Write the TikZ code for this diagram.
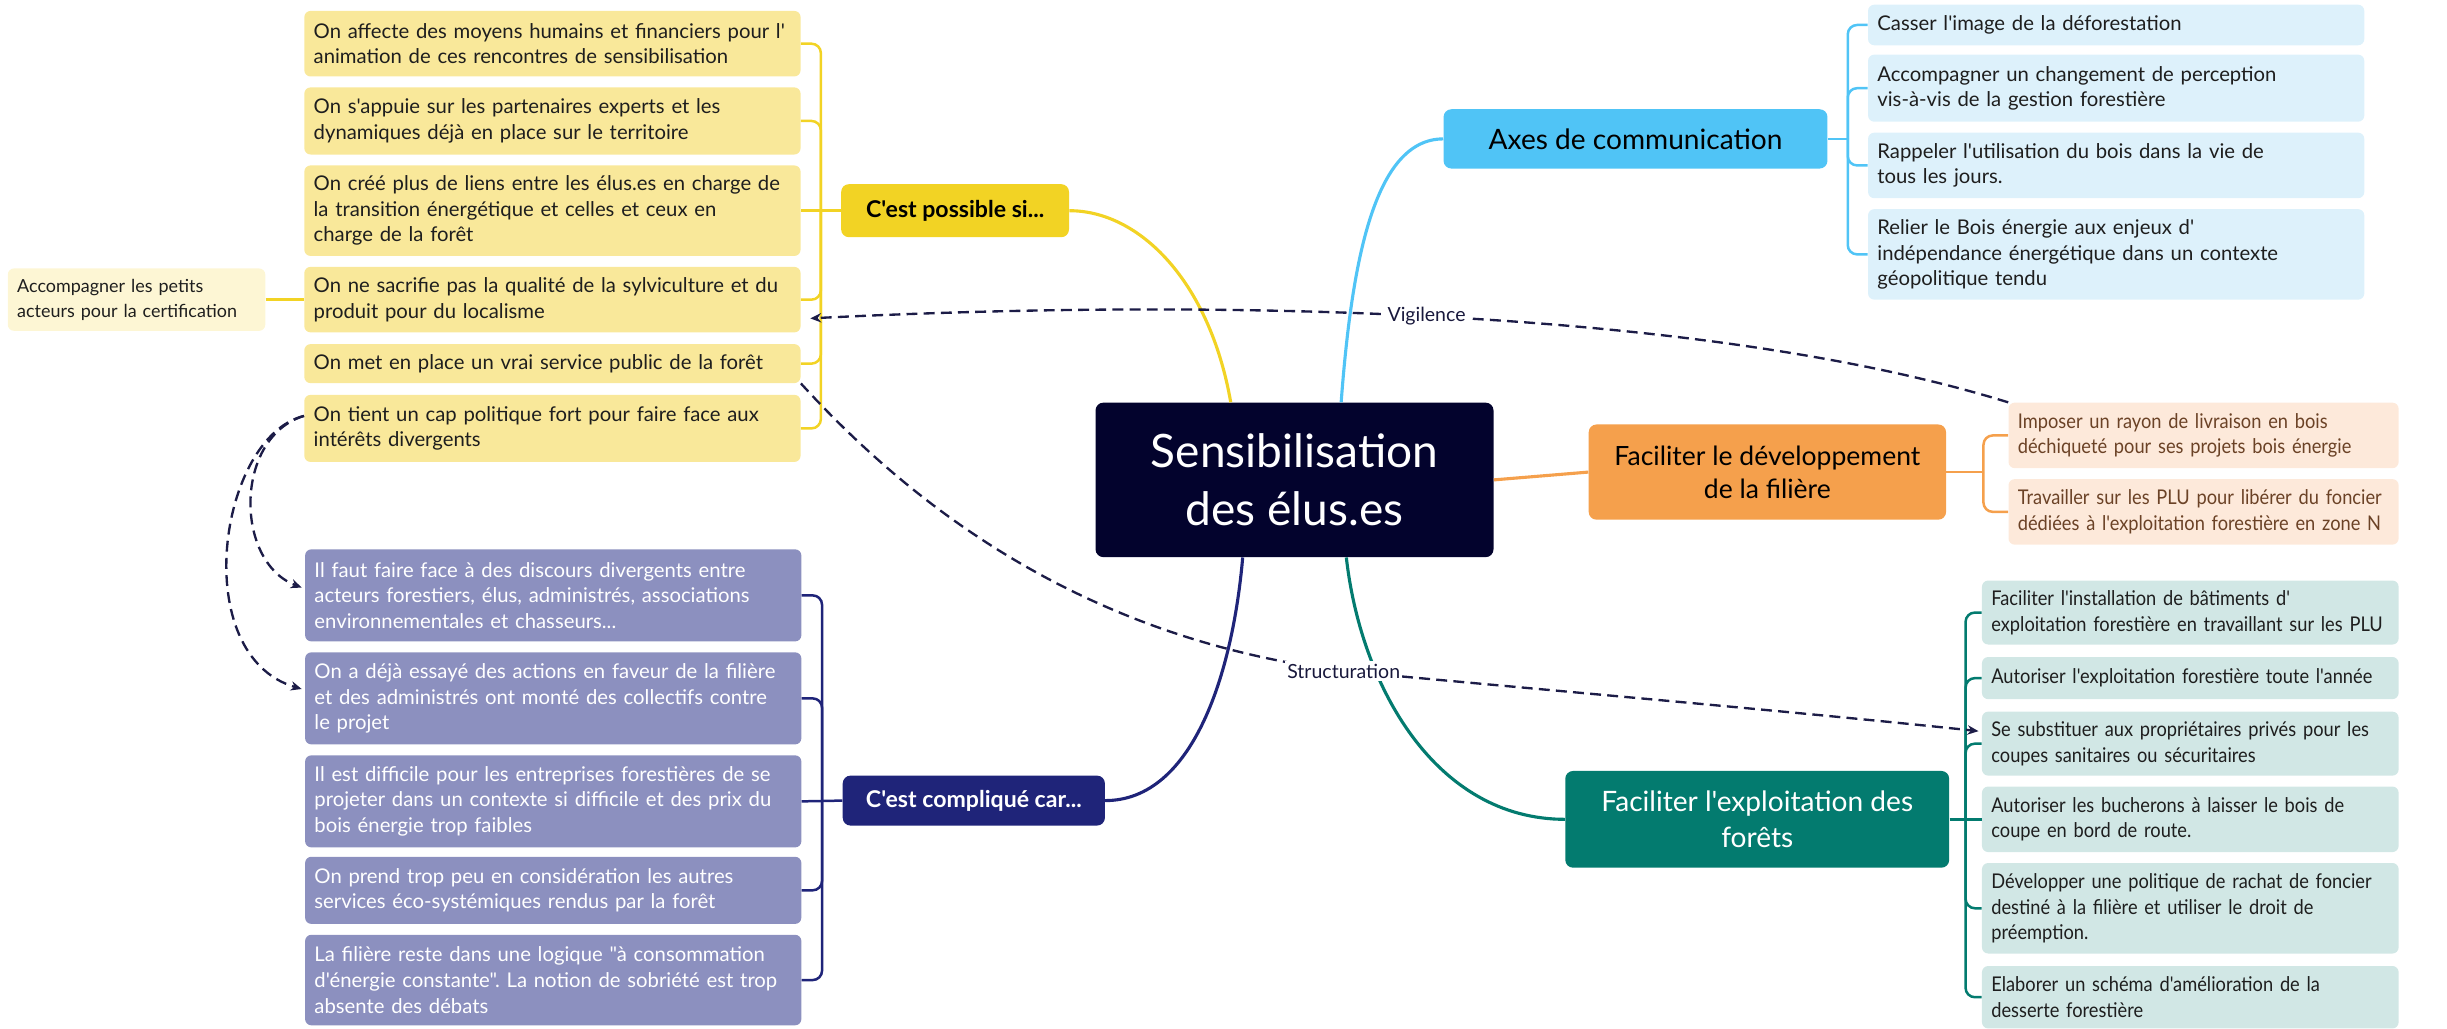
\documentclass[tikz,border=0pt]{standalone}
\usepackage{fontspec}
\setmainfont{Lato}[Ligatures=TeXOff]
\newfontfamily\condfont{Lato}[FakeStretch=0.9,Ligatures=TeXOff]
\usetikzlibrary{arrows.meta,calc}
\frenchspacing
\definecolor{centerfill}{HTML}{03032D}
\definecolor{yelmain}{HTML}{F2D324}
\definecolor{yelitem}{HTML}{F9E89A}
\definecolor{yelsmall}{HTML}{FDF6D4}
\definecolor{bluemain}{HTML}{50C4F6}
\definecolor{blueitem}{HTML}{DDF1FB}
\definecolor{orgmain}{HTML}{F5A04C}
\definecolor{orgitem}{HTML}{FDE9DA}
\definecolor{orgtext}{HTML}{6B4226}
\definecolor{tealmain}{HTML}{037B6F}
\definecolor{tealitem}{HTML}{D1E7E5}
\definecolor{navymain}{HTML}{1F2479}
\definecolor{purpitem}{HTML}{8C90BF}
\definecolor{dashc}{HTML}{1C1C47}
\definecolor{itemtext}{HTML}{1E1E1E}
\begin{document}
\frenchspacing
\begin{tikzpicture}[x=1pt,y=-1pt,
  mainbox/.style={rounded corners=5pt, inner sep=0pt, align=center},
  item/.style={rounded corners=4pt, align=left, inner xsep=6pt, inner ysep=0pt, font=\fontsize{13}{16.4}\selectfont},
  yitem/.style={item, fill=yelitem, text=itemtext, minimum width=318pt, text width=306pt},
  pitem/.style={item, fill=purpitem, text=white, minimum width=318pt, text width=306pt},
  bitem/.style={item, fill=blueitem, text=itemtext, minimum width=318pt, text width=306pt},
  oitem/.style={item, fill=orgitem, text=orgtext, minimum width=250pt, text width=238pt, font=\condfont\fontsize{13}{16.4}\selectfont},
  titem/.style={item, fill=tealitem, text=itemtext, minimum width=267pt, text width=255pt, font=\condfont\fontsize{13}{16.4}\selectfont},
  brk/.style={line width=1.6pt, rounded corners=6pt},
  ybr/.style={brk, draw=yelmain},
  pbr/.style={brk, draw=navymain},
  bbr/.style={brk, draw=bluemain},
  obr/.style={brk, draw=orgmain},
  tbr/.style={brk, draw=tealmain},
  link/.style={line width=2pt},
  dashln/.style={draw=dashc, line width=1.5pt, dash pattern=on 7pt off 4pt, -{Stealth[length=7pt,width=6pt]}},
  lab/.style={fill=white, inner sep=1.5pt, text=dashc!85!black, font=\fontsize{12.5}{14}\selectfont}
]
\useasboundingbox (0,0) rectangle (1568,659);

% central node
\node[mainbox, fill=centerfill, text=white, minimum width=255pt, minimum height=99pt,
  font=\fontsize{29.5}{37}\selectfont] (center) at (829.5,307.5) {Sensibilisation\\des élus.es};

% main branches
\node[mainbox, fill=yelmain, text=black, minimum width=146pt, minimum height=34pt,
  font=\bfseries\fontsize{14.8}{16}\selectfont] (possible) at (612,135) {C'est possible si...};
\node[mainbox, fill=navymain, text=white, minimum width=168pt, minimum height=32pt,
  font=\bfseries\fontsize{14.8}{16}\selectfont] (complique) at (624,513) {C'est compliqué car...};
\node[mainbox, fill=bluemain, text=black, minimum width=246pt, minimum height=38pt,
  font=\fontsize{18}{20}\selectfont] (axes) at (1048,89) {Axes de communication};
\node[mainbox, fill=orgmain, text=black, minimum width=229pt, minimum height=61pt,
  font=\fontsize{17}{21}\selectfont] (dev) at (1132.5,302.5) {Faciliter le développement\\de la filière};
\node[mainbox, fill=tealmain, text=white, minimum width=246pt, minimum height=62pt,
  font=\fontsize{18}{23}\selectfont] (exploit) at (1126,525) {Faciliter l'exploitation des\\forêts};

% yellow items
\node[yitem, minimum height=42pt] (y1) at (354,28) {On affecte des moyens humains et financiers pour l'\\animation de ces rencontres de sensibilisation};
\node[yitem, minimum height=43pt] (y2) at (354,77.5) {On s'appuie sur les partenaires experts et les\\dynamiques déjà en place sur le territoire};
\node[yitem, minimum height=58pt] (y3) at (354,135) {On créé plus de liens entre les élus.es en charge de\\la transition énergétique et celles et ceux en\\charge de la forêt};
\node[yitem, minimum height=42pt] (y4) at (354,192) {On ne sacrifie pas la qualité de la sylviculture et du\\produit pour du localisme};
\node[yitem, minimum height=25pt] (y5) at (354,233) {On met en place un vrai service public de la forêt};
\node[yitem, minimum height=43pt] (y6) at (354,274.5) {On tient un cap politique fort pour faire face aux\\intérêts divergents};
\node[item, fill=yelsmall, text=itemtext, minimum width=165pt, text width=153pt, minimum height=40pt,
  font=\fontsize{11.5}{16}\selectfont] (small) at (87.5,192) {Accompagner les petits\\acteurs pour la certification};

% purple items
\node[pitem, minimum height=59pt] (p1) at (354.5,381.5) {Il faut faire face à des discours divergents entre\\acteurs forestiers, élus, administrés, associations\\environnementales et chasseurs...};
\node[pitem, minimum height=59pt] (p2) at (354.5,447.5) {On a déjà essayé des actions en faveur de la filière\\et des administrés ont monté des collectifs contre\\le projet};
\node[pitem, minimum height=59pt] (p3) at (354.5,513.5) {Il est difficile pour les entreprises forestières de se\\projeter dans un contexte si difficile et des prix du\\bois énergie trop faibles};
\node[pitem, minimum height=43pt] (p4) at (354.5,570.5) {On prend trop peu en considération les autres\\services éco-systémiques rendus par la forêt};
\node[pitem, minimum height=58pt] (p5) at (354.5,628) {La filière reste dans une logique "à consommation\\d'énergie constante". La notion de sobriété est trop\\absente des débats};

% blue items
\node[bitem, minimum height=26pt] (b1) at (1356,16) {Casser l'image de la déforestation};
\node[bitem, minimum height=43pt] (b2) at (1356,56.5) {Accompagner un changement de perception\\vis-à-vis de la gestion forestière};
\node[bitem, minimum height=42pt] (b3) at (1356,106) {Rappeler l'utilisation du bois dans la vie de\\tous les jours.};
\node[bitem, minimum height=58pt] (b4) at (1356,163) {Relier le Bois énergie aux enjeux d'\\indépendance énergétique dans un contexte\\géopolitique tendu};

% orange items
\node[oitem, minimum height=42pt] (o1) at (1412,279) {Imposer un rayon de livraison en bois\\déchiqueté pour ses projets bois énergie};
\node[oitem, minimum height=42pt] (o2) at (1412,328) {Travailler sur les PLU pour libérer du foncier\\dédiées à l'exploitation forestière en zone N};

% teal items
\node[titem, minimum height=41pt] (t1) at (1403.5,392.5) {Faciliter l'installation de bâtiments d'\\exploitation forestière en travaillant sur les PLU};
\node[titem, minimum height=27pt] (t2) at (1403.5,434.5) {Autoriser l'exploitation forestière toute l'année};
\node[titem, minimum height=41pt] (t3) at (1403.5,476.5) {Se substituer aux propriétaires privés pour les\\coupes sanitaires ou sécuritaires};
\node[titem, minimum height=42pt] (t4) at (1403.5,525) {Autoriser les bucherons à laisser le bois de\\coupe en bord de route.};
\node[titem, minimum height=58pt] (t5) at (1403.5,582) {Développer une politique de rachat de foncier\\destiné à la filière et utiliser le droit de\\préemption.};
\node[titem, minimum height=40pt] (t6) at (1403.5,639) {Elaborer un schéma d'amélioration de la\\desserte forestière};

% brackets
\coordinate (ym) at ($(possible.west)!0.5!(y3.east)$);
\foreach \n in {y1,y2,y4,y5,y6} \draw[ybr] (\n.east) -| (ym);
\draw[ybr] (possible.west) -- (y3.east);
\draw[ybr] (small.east) -- (y4.west);

\coordinate (pm) at ($(complique.west)!0.5!(p3.east)$);
\foreach \n in {p1,p2,p4,p5} \draw[pbr] (\n.east) -| (pm);
\draw[pbr] (complique.west) -- (p3.east);

\coordinate (am) at ($(axes.east)!0.5!(axes.east -| b1.west)$);
\draw[bbr] (axes.east) -- (am);
\foreach \n in {b1,b2,b3,b4} \draw[bbr] (\n.west) -| (am);

\coordinate (om) at ($(dev.east)!0.6!(dev.east -| o1.west)$);
\draw[obr] (dev.east) -- (om);
\foreach \n in {o1,o2} \draw[obr] (\n.west) -| (om);

\coordinate (tm) at ($(exploit.east)!0.5!(t4.west)$);
\draw[tbr] (exploit.east) -- (t4.west);
\foreach \n in {t1,t2,t3,t5,t6} \draw[tbr] (\n.west) -| (tm);

% links from center
\draw[link, yelmain] (possible.east) .. controls (730,135) and (775,180) .. ($(center.north west)!0.34!(center.north east)$);
\draw[link, bluemain] ($(center.north west)!0.617!(center.north east)$) .. controls (866,170) and (880,89) .. (axes.west);
\draw[link, orgmain] (center.east) -- (dev.west);
\draw[link, navymain] ($(center.south west)!0.37!(center.south east)$) .. controls (790,430) and (765,513) .. (complique.east);
\draw[link, tealmain] ($(center.south west)!0.63!(center.south east)$) .. controls (872,440) and (920,525) .. (exploit.west);

% dashed relations
\draw[dashln] (o1.north west) .. controls (1100,200) and (800,190) .. ($(y4.east)+(6,12)$) node[lab, pos=0.53] {Vigilence};
\draw[dashln] (y5.south east) .. controls (590,330) and (700,410) .. (861,430) node[lab] {Structuration}
  .. controls (1000,443) and (1150,456) .. ($(t3.west)+(-2,-8)$);
\draw[dashln] ($(y6.west)+(0,-8)$) .. controls (150,280) and (150,360) .. ($(p1.west)+(-2,-5)$);
\draw[dashln] ($(y6.west)+(0,-8)$) .. controls (140,280) and (120,420) .. ($(p2.west)+(-2,-6)$);
\end{tikzpicture}
\end{document}
